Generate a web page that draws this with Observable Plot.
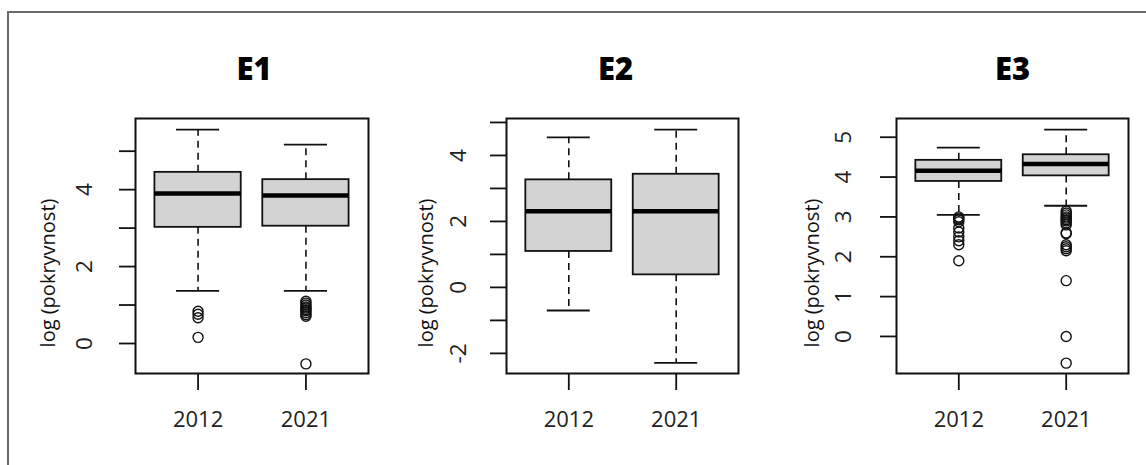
<!DOCTYPE html>
<html>
<head>
<meta charset="utf-8">
<script src="https://cdn.jsdelivr.net/npm/d3@7"></script>
<script src="https://cdn.jsdelivr.net/npm/@observablehq/plot@0.6"></script>
<style>
  html, body { margin: 0; padding: 0; background: #fff; }
  #wrap { position: relative; width: 1146px; height: 465px; overflow: hidden; background: #fff; }
  #frameTop { position: absolute; left: 7px; top: 11px; width: 1139px; height: 0; border-top: 2px solid #6a6a6a; }
  #frameLeft { position: absolute; left: 7px; top: 11px; width: 0; height: 460px; border-left: 2px solid #6a6a6a; }
  .panel { position: absolute; top: 0; }
</style>
</head>
<body>
<div id="wrap">
  <div id="frameTop"></div>
  <div id="frameLeft"></div>
</div>
<script>
// ---- data ----
const years = ["2012", "2021"];
const positions = [1, 2];
const panelNames = ["E1", "E2", "E3"];
const yAxisTitle = "log (pokryvnost)";

// E1
const e1Low = [1.37, 1.37];
const e1Q1 = [3.02, 3.05];
const e1Median = [3.90, 3.85];
const e1Q3 = [4.45, 4.26];
const e1High = [5.56, 5.17];
const e1Outliers2012 = [0.84, 0.76, 0.67, 0.16];
const e1Outliers2021 = [1.10, 1.05, 1.00, 0.95, 0.92, 0.88, 0.85, 0.80, 0.75, 0.71, -0.53];
const e1Ticks = [0, 1, 2, 3, 4, 5];
const e1TickLabels = [0, 2, 4];

// E2
const e2Low = [-0.70, -2.29];
const e2Q1 = [1.09, 0.38];
const e2Median = [2.31, 2.31];
const e2Q3 = [3.26, 3.43];
const e2High = [4.55, 4.78];
const e2Outliers2012 = [];
const e2Outliers2021 = [];
const e2Ticks = [-2, -1, 0, 1, 2, 3, 4, 5];
const e2TickLabels = [-2, 0, 2, 4];

// E3
const e3Low = [3.05, 3.28];
const e3Q1 = [3.89, 4.03];
const e3Median = [4.16, 4.33];
const e3Q3 = [4.42, 4.56];
const e3High = [4.74, 5.19];
const e3Outliers2012 = [3.00, 2.97, 2.93, 2.88, 2.72, 2.62, 2.50, 2.40, 2.30, 1.90];
const e3Outliers2021 = [3.15, 3.10, 3.05, 3.00, 2.97, 2.93, 2.90, 2.85, 2.80, 2.60, 2.58, 2.30, 2.25, 2.20, 2.15, 1.40, 0.00, -0.67];
const e3Ticks = [0, 1, 2, 3, 4, 5];
const e3TickLabels = [0, 1, 2, 3, 4, 5];

// ---- layout (positions/styles) ----
const layouts = [
  {left: 0, width: 380, marginLeft: 135, marginRight: 12, yDomain: [-0.78, 5.85], tickLabelDx: -51, yTitleDx: -87, titleDx: 2},
  {left: 380, width: 380, marginLeft: 126, marginRight: 22, yDomain: [-2.61, 5.12], tickLabelDx: -48, yTitleDx: -80, titleDx: -7},
  {left: 760, width: 386, marginLeft: 136, marginRight: 18, yDomain: [-0.93, 5.47], tickLabelDx: -53, yTitleDx: -84, titleDx: 0}
];

const stats = [
  {low: e1Low, q1: e1Q1, med: e1Median, q3: e1Q3, high: e1High, out: [e1Outliers2012, e1Outliers2021], ticks: e1Ticks, labels: e1TickLabels},
  {low: e2Low, q1: e2Q1, med: e2Median, q3: e2Q3, high: e2High, out: [e2Outliers2012, e2Outliers2021], ticks: e2Ticks, labels: e2TickLabels},
  {low: e3Low, q1: e3Q1, med: e3Median, q3: e3Q3, high: e3High, out: [e3Outliers2012, e3Outliers2021], ticks: e3Ticks, labels: e3TickLabels}
];

const wrap = document.getElementById("wrap");
const font = "'Open Sans', 'DejaVu Sans', sans-serif";

stats.forEach((s, k) => {
  const L = layouts[k];
  const rows = years.map((yr, i) => ({
    year: yr, pos: positions[i],
    low: s.low[i], q1: s.q1[i], med: s.med[i], q3: s.q3[i], high: s.high[i]
  }));
  const outRows = [];
  years.forEach((yr, i) => s.out[i].forEach(v => outRows.push({pos: positions[i], v})));

  const chart = Plot.plot({
    width: L.width,
    height: 465,
    marginLeft: L.marginLeft,
    marginRight: L.marginRight,
    marginTop: 118,
    marginBottom: 92,
    x: {domain: [0.42, 2.58]},
    y: {domain: L.yDomain},
    style: {fontFamily: font, background: "transparent", overflow: "visible", color: "#111"},
    marks: [
      Plot.axisY({ticks: s.ticks, tickSize: 16, tickFormat: () => "", label: null, strokeWidth: 1.8, stroke: "#111"}),
      Plot.axisX({ticks: positions, tickSize: 17, tickFormat: () => "", label: null, strokeWidth: 1.8, stroke: "#111"}),
      Plot.text(s.labels, {y: d => d, text: d => String(d), frameAnchor: "left", dx: L.tickLabelDx, rotate: -90,
        textAnchor: "middle", lineAnchor: "middle", fontSize: 22.5, fill: "#222"}),
      Plot.text(years, {x: (d, i) => positions[i], text: d => d, frameAnchor: "bottom", dy: 46,
        textAnchor: "middle", lineAnchor: "middle", fontSize: 22, fill: "#222"}),
      Plot.text([yAxisTitle], {text: d => d, frameAnchor: "left", dx: L.yTitleDx, dy: 27, rotate: -90,
        textAnchor: "middle", lineAnchor: "middle", fontSize: 20, fill: "#111"}),
      Plot.text([panelNames[k]], {text: d => d, frameAnchor: "top", dx: L.titleDx, dy: -48,
        textAnchor: "middle", lineAnchor: "middle", fontSize: 31, fontWeight: 800, fill: "#000"}),
      // whiskers
      Plot.ruleX(rows, {x: "pos", y1: "q3", y2: "high", stroke: "#111", strokeWidth: 1.6, strokeDasharray: "7,5"}),
      Plot.ruleX(rows, {x: "pos", y1: "q1", y2: "low", stroke: "#111", strokeWidth: 1.6, strokeDasharray: "7,5"}),
      Plot.ruleY(rows, {y: "high", x1: d => d.pos - 0.2, x2: d => d.pos + 0.2, stroke: "#111", strokeWidth: 1.8}),
      Plot.ruleY(rows, {y: "low", x1: d => d.pos - 0.2, x2: d => d.pos + 0.2, stroke: "#111", strokeWidth: 1.8}),
      // boxes
      Plot.rect(rows, {x1: d => d.pos - 0.4, x2: d => d.pos + 0.4, y1: "q1", y2: "q3",
        fill: "#d3d3d3", stroke: "#111", strokeWidth: 1.8}),
      Plot.ruleY(rows, {y: "med", x1: d => d.pos - 0.4, x2: d => d.pos + 0.4, stroke: "#000", strokeWidth: 4.5}),
      // outliers
      Plot.dot(outRows, {x: "pos", y: "v", r: 5, stroke: "#111", fill: "none", strokeWidth: 1.4}),
      Plot.frame({stroke: "#111", strokeWidth: 2})
    ]
  });
  chart.classList.add("panel");
  chart.style.left = L.left + "px";
  wrap.appendChild(chart);
});
</script>
</body>
</html>
